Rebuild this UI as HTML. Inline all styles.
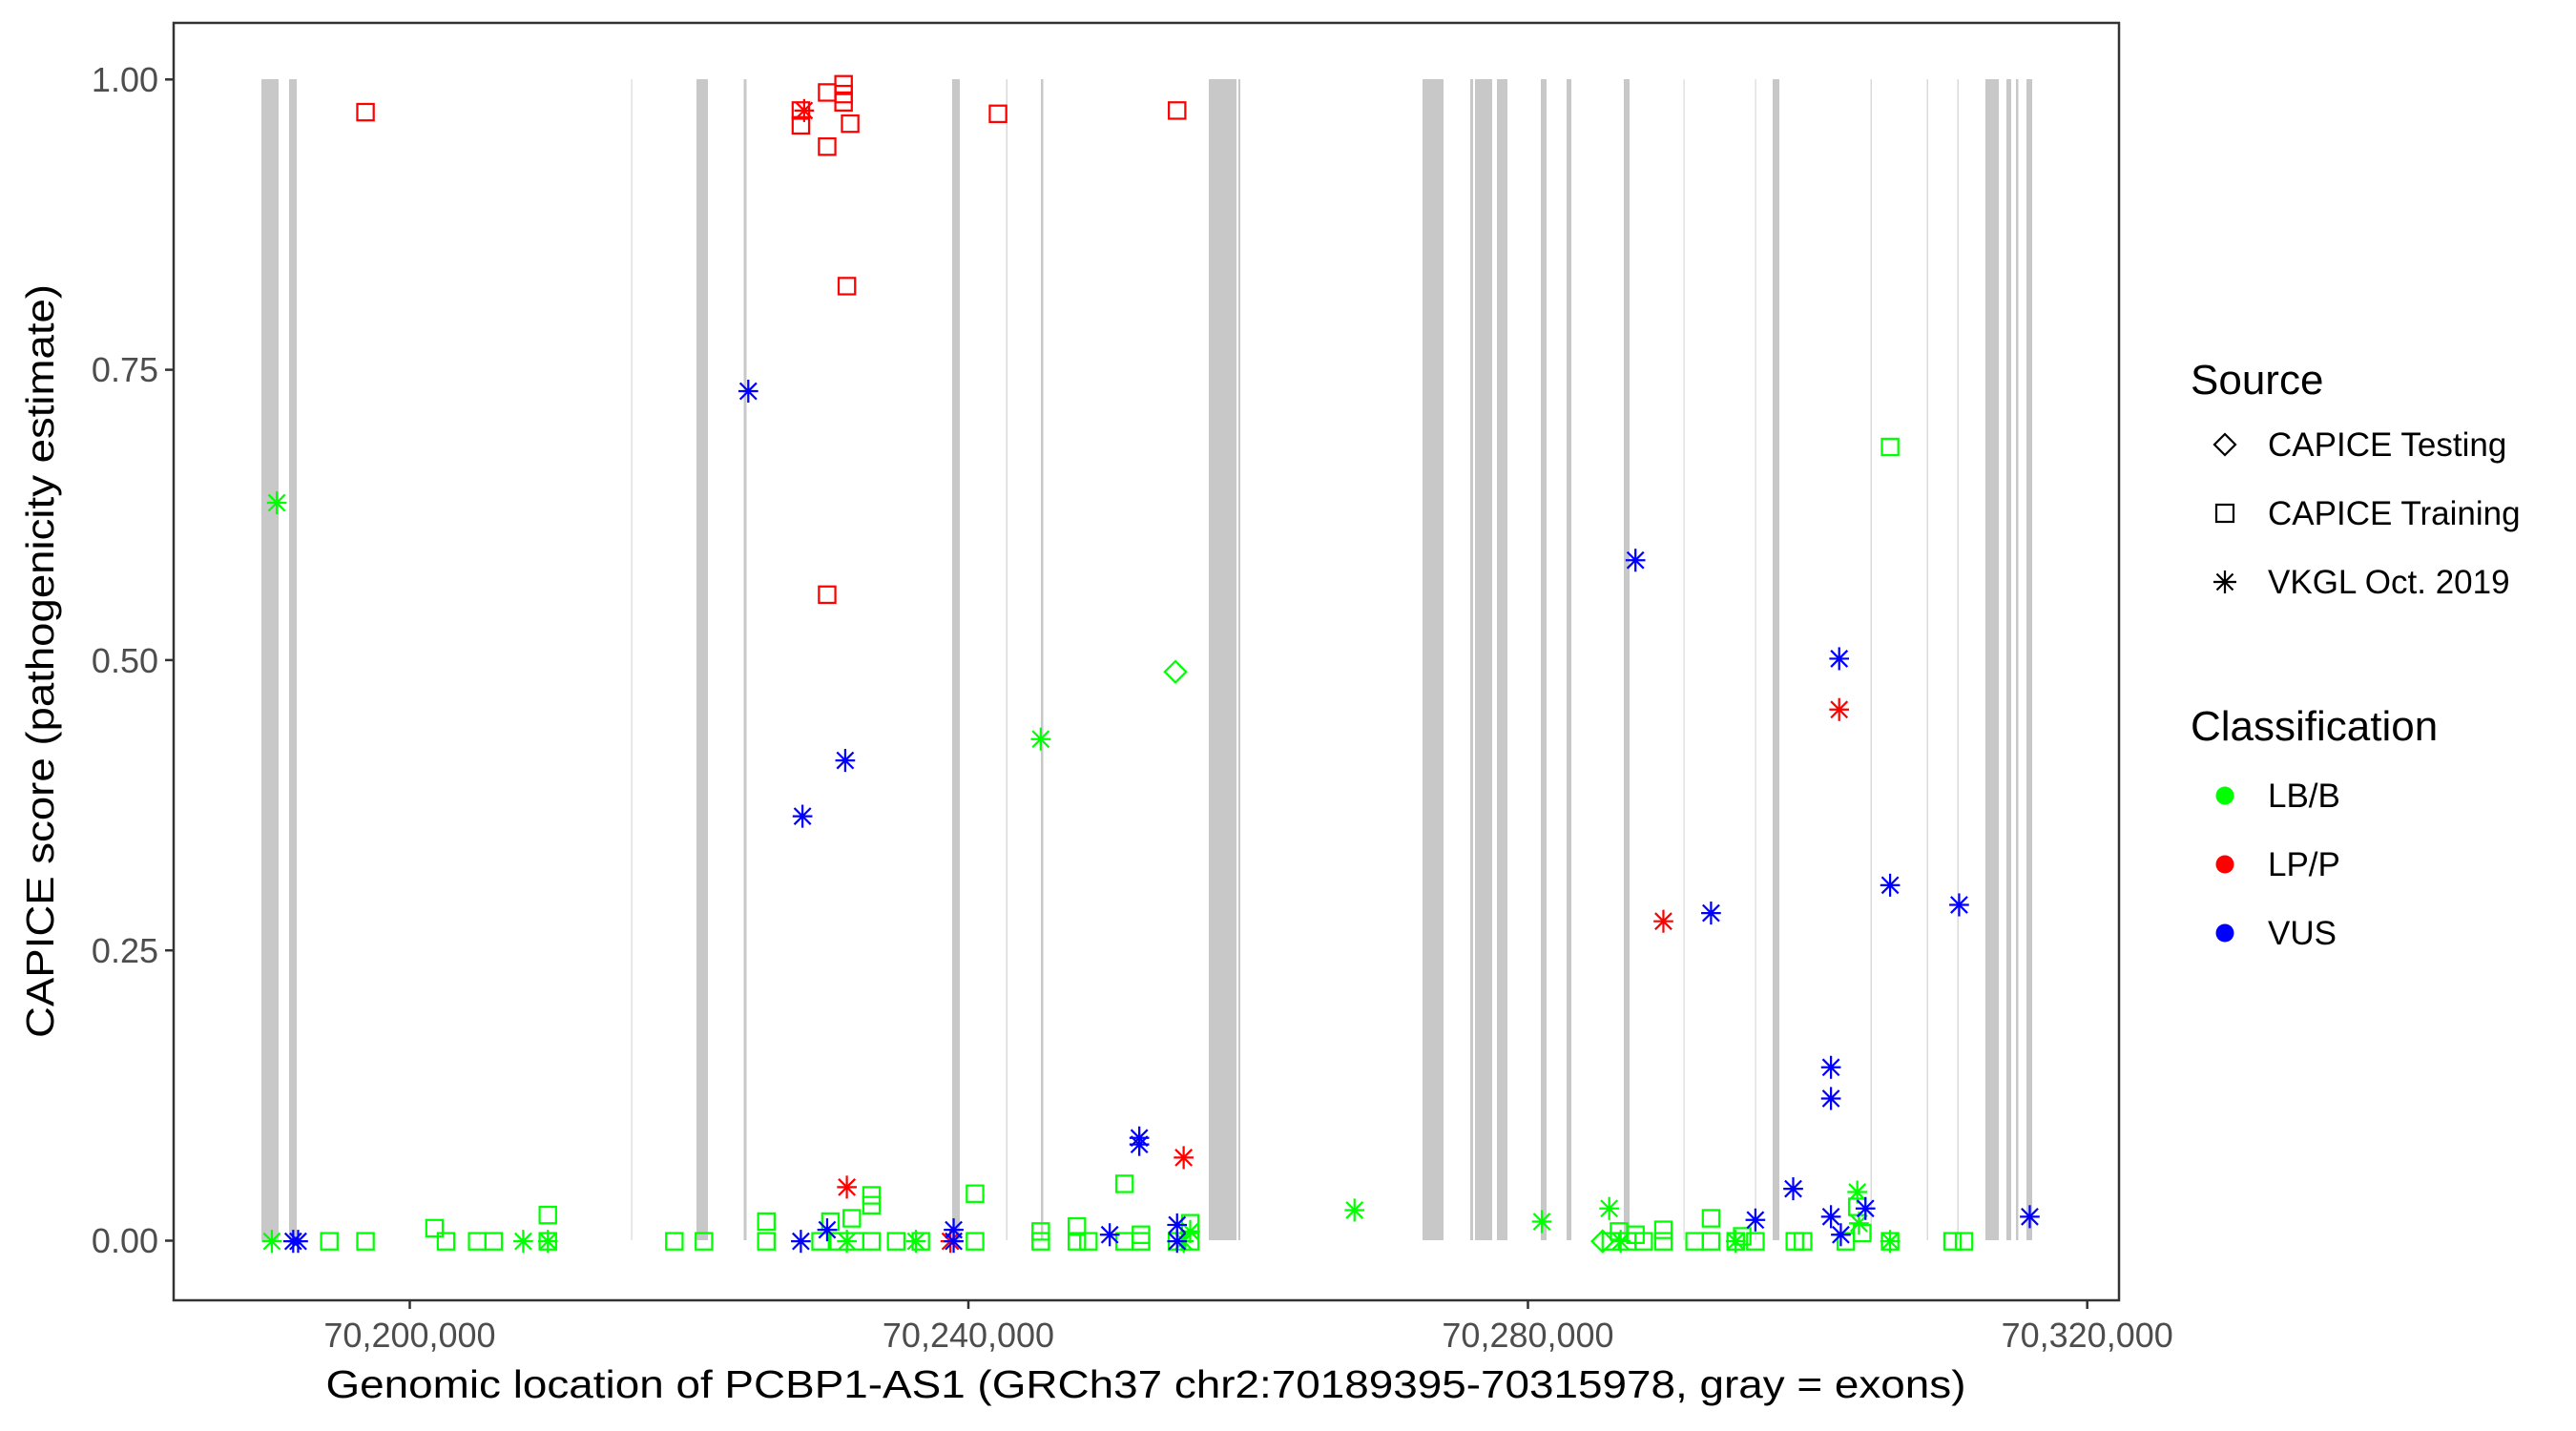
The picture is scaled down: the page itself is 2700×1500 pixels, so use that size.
<!DOCTYPE html>
<html><head><meta charset="utf-8"><style>html,body{margin:0;padding:0;background:#fff}svg{display:block}</style></head>
<body>
<svg xmlns="http://www.w3.org/2000/svg" xmlns:xlink="http://www.w3.org/1999/xlink" width="2700" height="1500" viewBox="0 0 2700 1500" font-family="Liberation Sans, Arial, sans-serif">
<defs>
<g id="sq"><rect x="-5" y="-5" width="10" height="10" fill="none" stroke="currentColor" stroke-width="1.3"/></g>
<g id="ast" stroke="currentColor" stroke-width="1.3"><line x1="0" y1="-7" x2="0" y2="7"/><line x1="-6" y1="0" x2="6" y2="0"/><line x1="-5" y1="-5" x2="5" y2="5"/><line x1="-5" y1="5" x2="5" y2="-5"/></g>
<g id="dia"><path d="M0,-6.5 L6.5,0 L0,6.5 L-6.5,0 Z" fill="none" stroke="currentColor" stroke-width="1.3"/></g>
</defs>
<rect width="2700" height="1500" fill="#fff"/>
<g fill="#c8c8c8">
<rect x="274" y="83" width="18" height="1217"/>
<rect x="303" y="83" width="8" height="1217"/>
<rect x="730" y="83" width="12" height="1217"/>
<rect x="779.5" y="83" width="3" height="1217"/>
<rect x="998" y="83" width="8" height="1217"/>
<rect x="1091" y="83" width="2.5" height="1217"/>
<rect x="1267" y="83" width="29" height="1217"/>
<rect x="1298" y="83" width="2" height="1217"/>
<rect x="1491" y="83" width="22" height="1217"/>
<rect x="1541" y="83" width="3" height="1217"/>
<rect x="1546" y="83" width="18" height="1217"/>
<rect x="1569" y="83" width="11" height="1217"/>
<rect x="1615" y="83" width="6" height="1217"/>
<rect x="1642" y="83" width="5" height="1217"/>
<rect x="1702" y="83" width="6" height="1217"/>
<rect x="1858" y="83" width="7" height="1217"/>
<rect x="2081" y="83" width="14" height="1217"/>
<rect x="2103" y="83" width="5" height="1217"/>
<rect x="2113" y="83" width="2.5" height="1217"/>
<rect x="2124" y="83" width="6" height="1217"/>
</g>
<g fill="#dadada">
<rect x="661.5" y="83" width="1.2" height="1217"/>
<rect x="1054.5" y="83" width="1.5" height="1217"/>
<rect x="1764.5" y="83" width="1.2" height="1217"/>
<rect x="1839.5" y="83" width="1.2" height="1217"/>
<rect x="1960.5" y="83" width="1.5" height="1217"/>
<rect x="2019.5" y="83" width="1.5" height="1217"/>
<rect x="2051.5" y="83" width="1.5" height="1217"/>
</g>
<g transform="matrix(1.722 0 0 1.7203 0.8 0.6)">
<g color="#00ff00">
<use xlink:href="#sq" x="200" y="756"/><use xlink:href="#sq" x="222" y="756"/><use xlink:href="#sq" x="264" y="748"/><use xlink:href="#sq" x="271" y="756"/><use xlink:href="#sq" x="290" y="756"/><use xlink:href="#sq" x="300" y="756"/><use xlink:href="#sq" x="333" y="740"/><use xlink:href="#sq" x="333" y="756"/><use xlink:href="#sq" x="410" y="756"/><use xlink:href="#sq" x="428" y="756"/><use xlink:href="#sq" x="466" y="744"/><use xlink:href="#sq" x="466" y="756"/><use xlink:href="#sq" x="499" y="756"/><use xlink:href="#sq" x="505" y="744"/><use xlink:href="#sq" x="510" y="756"/><use xlink:href="#sq" x="518" y="742"/><use xlink:href="#sq" x="530" y="728"/><use xlink:href="#sq" x="530" y="734"/><use xlink:href="#sq" x="520" y="756"/><use xlink:href="#sq" x="530" y="756"/><use xlink:href="#sq" x="545" y="756"/><use xlink:href="#sq" x="560" y="756"/><use xlink:href="#sq" x="593" y="727"/><use xlink:href="#sq" x="593" y="756"/><use xlink:href="#sq" x="633" y="750"/><use xlink:href="#sq" x="633" y="756"/><use xlink:href="#sq" x="655" y="747"/><use xlink:href="#sq" x="655" y="756"/><use xlink:href="#sq" x="662" y="756"/><use xlink:href="#sq" x="684" y="721"/><use xlink:href="#sq" x="684" y="756"/><use xlink:href="#sq" x="694" y="752"/><use xlink:href="#sq" x="694" y="756"/><use xlink:href="#sq" x="716" y="756"/><use xlink:href="#sq" x="724" y="745"/><use xlink:href="#sq" x="724" y="756"/><use xlink:href="#sq" x="980" y="756"/><use xlink:href="#sq" x="985" y="750"/><use xlink:href="#sq" x="990" y="756"/><use xlink:href="#sq" x="995" y="752"/><use xlink:href="#sq" x="1000" y="756"/><use xlink:href="#sq" x="1012" y="749"/><use xlink:href="#sq" x="1012" y="756"/><use xlink:href="#sq" x="1031" y="756"/><use xlink:href="#sq" x="1041" y="742"/><use xlink:href="#sq" x="1041" y="756"/><use xlink:href="#sq" x="1056" y="756"/><use xlink:href="#sq" x="1060" y="753"/><use xlink:href="#sq" x="1068" y="756"/><use xlink:href="#sq" x="1092" y="756"/><use xlink:href="#sq" x="1097" y="756"/><use xlink:href="#sq" x="1123" y="756"/><use xlink:href="#sq" x="1130" y="735"/><use xlink:href="#sq" x="1133" y="751"/><use xlink:href="#sq" x="1150" y="272"/><use xlink:href="#sq" x="1150" y="756"/><use xlink:href="#sq" x="1188" y="756"/><use xlink:href="#sq" x="1195" y="756"/>
<use xlink:href="#dia" x="715" y="409"/><use xlink:href="#dia" x="975" y="756"/>
<use xlink:href="#ast" x="168" y="306"/><use xlink:href="#ast" x="633" y="450"/><use xlink:href="#ast" x="824" y="737"/><use xlink:href="#ast" x="938" y="744"/><use xlink:href="#ast" x="979" y="736"/><use xlink:href="#ast" x="1130" y="726"/><use xlink:href="#ast" x="165" y="756"/><use xlink:href="#ast" x="318" y="756"/><use xlink:href="#ast" x="333" y="756"/><use xlink:href="#ast" x="557" y="756"/><use xlink:href="#ast" x="724" y="750"/><use xlink:href="#ast" x="720" y="756"/><use xlink:href="#ast" x="1131" y="745"/><use xlink:href="#ast" x="986" y="756"/><use xlink:href="#ast" x="515" y="756"/><use xlink:href="#ast" x="1056" y="756"/><use xlink:href="#ast" x="1150" y="756"/>
</g>
<g color="#ff0000">
<use xlink:href="#sq" x="222" y="68"/><use xlink:href="#sq" x="487" y="67"/><use xlink:href="#sq" x="487" y="76"/><use xlink:href="#sq" x="503" y="56"/><use xlink:href="#sq" x="513" y="51"/><use xlink:href="#sq" x="513" y="57"/><use xlink:href="#sq" x="513" y="62"/><use xlink:href="#sq" x="517" y="75"/><use xlink:href="#sq" x="503" y="89"/><use xlink:href="#sq" x="515" y="174"/><use xlink:href="#sq" x="503" y="362"/><use xlink:href="#sq" x="607" y="69"/><use xlink:href="#sq" x="716" y="67"/>
<use xlink:href="#ast" x="489" y="67"/><use xlink:href="#ast" x="515" y="723"/><use xlink:href="#ast" x="720" y="705"/><use xlink:href="#ast" x="1119" y="432"/><use xlink:href="#ast" x="1012" y="561"/><use xlink:href="#ast" x="578" y="756"/>
</g>
<g color="#0000ff">
<use xlink:href="#ast" x="455" y="238"/><use xlink:href="#ast" x="514" y="463"/><use xlink:href="#ast" x="488" y="497"/><use xlink:href="#ast" x="995" y="341"/><use xlink:href="#ast" x="1119" y="401"/><use xlink:href="#ast" x="1041" y="556"/><use xlink:href="#ast" x="1150" y="539"/><use xlink:href="#ast" x="1192" y="551"/><use xlink:href="#ast" x="1114" y="650"/><use xlink:href="#ast" x="1114" y="669"/><use xlink:href="#ast" x="1091" y="724"/><use xlink:href="#ast" x="1068" y="743"/><use xlink:href="#ast" x="1114" y="741"/><use xlink:href="#ast" x="1135" y="736"/><use xlink:href="#ast" x="1235" y="741"/><use xlink:href="#ast" x="693" y="693"/><use xlink:href="#ast" x="693" y="697"/><use xlink:href="#ast" x="178" y="756"/><use xlink:href="#ast" x="181" y="756"/><use xlink:href="#ast" x="487" y="756"/><use xlink:href="#ast" x="503" y="749"/><use xlink:href="#ast" x="580" y="749"/><use xlink:href="#ast" x="580" y="756"/><use xlink:href="#ast" x="675" y="752"/><use xlink:href="#ast" x="716" y="746"/><use xlink:href="#ast" x="716" y="756"/><use xlink:href="#ast" x="1120" y="752"/>
</g>
</g>
<rect x="182" y="24" width="2039" height="1339" fill="none" stroke="#333" stroke-width="2.5"/>
<g stroke="#333" stroke-width="2.5">
<line x1="173" y1="83.3" x2="182" y2="83.3"/><line x1="173" y1="387.6" x2="182" y2="387.6"/><line x1="173" y1="691.9" x2="182" y2="691.9"/><line x1="173" y1="996.2" x2="182" y2="996.2"/><line x1="173" y1="1300.5" x2="182" y2="1300.5"/>
<line x1="429.5" y1="1363" x2="429.5" y2="1372"/><line x1="1015" y1="1363" x2="1015" y2="1372"/><line x1="1601.5" y1="1363" x2="1601.5" y2="1372"/><line x1="2187.7" y1="1363" x2="2187.7" y2="1372"/>
</g>
<g fill="#4d4d4d" font-size="36" text-anchor="end">
<text x="166" y="96">1.00</text><text x="166" y="400">0.75</text><text x="166" y="705">0.50</text><text x="166" y="1009">0.25</text><text x="166" y="1313">0.00</text>
</g>
<g fill="#4d4d4d" font-size="36" text-anchor="middle">
<text x="429.5" y="1412">70,200,000</text><text x="1015" y="1412">70,240,000</text><text x="1601.5" y="1412">70,280,000</text><text x="2187.7" y="1412">70,320,000</text>
</g>
<text x="1201" y="1465" font-size="41" text-anchor="middle" textLength="1719" lengthAdjust="spacingAndGlyphs">Genomic location of PCBP1-AS1 (GRCh37 chr2:70189395-70315978, gray = exons)</text>
<text transform="translate(56,693) rotate(-90)" font-size="41" text-anchor="middle" textLength="790" lengthAdjust="spacingAndGlyphs">CAPICE score (pathogenicity estimate)</text>
<text x="2296" y="413" font-size="44">Source</text>
<path d="M2332,455 L2343,466 L2332,477 L2321,466 Z" fill="none" stroke="#000" stroke-width="2.2"/>
<rect x="2323" y="529" width="18" height="18" fill="none" stroke="#000" stroke-width="2.2"/>
<g stroke="#000" stroke-width="2.2"><line x1="2332" y1="598" x2="2332" y2="622"/><line x1="2320" y1="610" x2="2344" y2="610"/><line x1="2323.5" y1="601.5" x2="2340.5" y2="618.5"/><line x1="2323.5" y1="618.5" x2="2340.5" y2="601.5"/></g>
<g font-size="35">
<text x="2377" y="478">CAPICE Testing</text><text x="2377" y="550">CAPICE Training</text><text x="2377" y="622">VKGL Oct. 2019</text>
</g>
<text x="2296" y="776" font-size="44">Classification</text>
<circle cx="2332" cy="834" r="9.5" fill="#00ff00"/><circle cx="2332" cy="906" r="9.5" fill="#ff0000"/><circle cx="2332" cy="978" r="9.5" fill="#0000ff"/>
<g font-size="35"><text x="2377" y="846">LB/B</text><text x="2377" y="918">LP/P</text><text x="2377" y="990">VUS</text></g>
</svg>
</body></html>
